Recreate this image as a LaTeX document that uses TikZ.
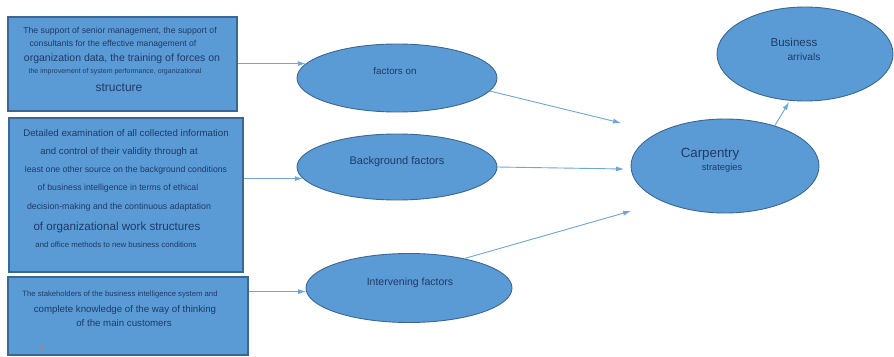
\documentclass[tikz,border=0pt]{standalone}
\usepackage{fontspec}
\setmainfont{Liberation Sans}
\usetikzlibrary{shapes.geometric,arrows.meta}
\definecolor{fillb}{HTML}{5B9BD5}
\definecolor{edgeb}{HTML}{3A6794}
\definecolor{txt}{HTML}{1F3A66}
\definecolor{arrc}{HTML}{6FA6DA}
\definecolor{mark}{HTML}{C8803A}
\newcommand{\fs}[1]{\fontsize{#1}{#1}\selectfont}
\tikzset{
  box/.style={draw=edgeb, line width=1.2pt, fill=fillb, rectangle, inner sep=0pt},
  oval/.style={draw=edgeb, line width=0.9pt, fill=fillb, ellipse, inner sep=0pt},
  txtl/.style={text=txt, inner sep=0pt, anchor=center},
  arr/.style={draw=arrc, line width=0.9pt, -{Latex[length=8pt,width=5pt]}}
}
\begin{document}
\begin{tikzpicture}[x=1pt,y=-1pt]
\useasboundingbox[fill=white] (0,0) rectangle (894,356);

% boxes
\node[box, minimum width=229pt, minimum height=94pt] (b1) at (122.5,64) {};
\node[box, minimum width=234pt, minimum height=154pt] (b2) at (126,195) {};
\node[box, minimum width=240pt, minimum height=78pt] (b3) at (128,316) {};

% box 1 text
\node[txtl] (b1a) at (120,31) {\fs{8.7}The support of senior management, the support of};
\node[txtl] (b1b) at (113,44) {\fs{8.6}consultants for the effective management of};
\node[txtl] (b1c) at (122,58.5) {\fs{10.5}organization data, the training of forces on};
\node[txtl] (b1d) at (115,72) {\fs{7}the improvement of system performance, organizational};
\node[txtl] (b1e) at (119,88) {\fs{12}structure};

% box 2 text
\node[txtl] (b2a) at (126,133) {\fs{9.7}Detailed examination of all collected information};
\node[txtl] (b2b) at (119,152) {\fs{9.6}and control of their validity through at};
\node[txtl] (b2c) at (126,170) {\fs{8.7}least one other source on the background conditions};
\node[txtl] (b2d) at (118,188) {\fs{8.7}of business intelligence in terms of ethical};
\node[txtl] (b2e) at (119,207) {\fs{8.8}decision-making and the continuous adaptation};
\node[txtl] (b2f) at (117,227) {\fs{11.6}of organizational work structures};
\node[txtl] (b2g) at (116,245) {\fs{7.8}and office methods to new business conditions};

% box 3 text
\node[txtl] (b3a) at (120,295) {\fs{7.7}The stakeholders of the business intelligence system and};
\node[txtl] (b3b) at (125,310) {\fs{9.7}complete knowledge of the way of thinking};
\node[txtl] (b3c) at (124,323) {\fs{9.7}of the main customers};
\node[txtl, text=mark] (b3m) at (42,347) {\fs{7}1};

% ellipses
\node[oval, minimum width=200pt, minimum height=68pt] (fo) at (397,78) {};
\node[oval, minimum width=200pt, minimum height=66pt] (bg) at (397,167) {};
\node[oval, minimum width=206pt, minimum height=69pt] (iv) at (409,288) {};
\node[oval, minimum width=188pt, minimum height=94pt] (cp) at (725,166) {};
\node[oval, minimum width=176pt, minimum height=94pt] (ba) at (805,54) {};

\node[txtl] (fot) at (395,71) {\fs{9.8}factors on};
\node[txtl] (bgt) at (397,162) {\fs{11}Background factors};
\node[txtl] (ivt) at (410,283) {\fs{10.5}Intervening factors};
\node[txtl] (cpt) at (710,154) {\fs{13.3}Carpentry};
\node[txtl] (cps) at (722,168) {\fs{9.3}strategies};
\node[txtl] (bat) at (794,42) {\fs{11.5}Business};
\node[txtl] (bas) at (804,57) {\fs{10.2}arrivals};

% free arrow ends
\coordinate (e1) at (621,123);
\coordinate (e2) at (624,169);
\coordinate (e3) at (631,211);

% connectors
\draw[arr] (b1.east |- fo.171) -- (fo.171);
\draw[arr] (b2.east |- bg.187) -- (bg.187);
\draw[arr] (b3.east |- iv.182) -- (iv.182);
\draw[arr] (fo.-8) -- (e1);
\draw[arr] (bg.east) -- (e2);
\draw[arr] (iv.28) -- (e3);
\draw[arr, shorten >=1.5pt] (cp.39) -- (ba.252);
\end{tikzpicture}
\end{document}
